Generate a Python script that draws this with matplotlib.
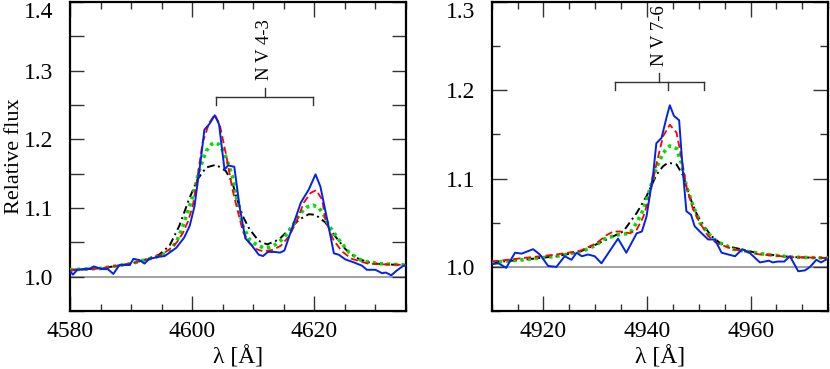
import numpy as np
import matplotlib
matplotlib.use("Agg")
import matplotlib.pyplot as plt
from matplotlib.ticker import MultipleLocator

plt.rcParams['font.family'] = ['Liberation Serif', 'DejaVu Serif']

# ---- N V 4-3 panel -------------------------------------------------------
obs1_wl = [4580.0, 4580.5, 4581.2, 4583.3, 4583.9, 4585.2, 4586.2, 4587.1, 4588.1, 4589.8,
           4590.4, 4591.4, 4592.2, 4593.0, 4594.6, 4595.5, 4596.3, 4597.4, 4598.7, 4599.6,
           4600.4, 4600.9, 4601.5, 4602.0, 4602.8, 4603.7, 4604.4, 4605.3, 4605.9, 4606.9,
           4607.8, 4608.7, 4609.8, 4610.9, 4611.6, 4612.4, 4613.5, 4614.4, 4615.1, 4615.9,
           4617.8, 4619.1, 4620.2, 4621.0, 4622.2, 4623.2, 4624.0, 4625.1, 4626.4, 4627.8,
           4628.6, 4630.0, 4631.1, 4631.7, 4632.6, 4633.5, 4634.6, 4635.0]
obs1_fl = [1.008, 1.003, 1.010, 1.012, 1.015, 1.011, 1.011, 1.004, 1.017, 1.017,
           1.026, 1.024, 1.019, 1.026, 1.029, 1.030, 1.035, 1.042, 1.057, 1.074,
           1.103, 1.137, 1.176, 1.214, 1.222, 1.235, 1.222, 1.156, 1.162, 1.160,
           1.100, 1.056, 1.045, 1.032, 1.030, 1.036, 1.036, 1.035, 1.038, 1.059,
           1.108, 1.127, 1.149, 1.131, 1.079, 1.034, 1.032, 1.025, 1.021, 1.016,
           1.010, 1.010, 1.005, 1.006, 1.002, 1.009, 1.016, 1.016]

red1_wl = [4580, 4585, 4590, 4593, 4595, 4596.3, 4597.5, 4598.5, 4599.3, 4600.1,
           4600.9, 4601.7, 4602.8, 4603.7, 4604.5, 4605.5, 4606.6, 4607.4, 4608.3, 4609.4,
           4610.5, 4611.6, 4613.2, 4614.5, 4615.9, 4617.0, 4618.3, 4619.4, 4620.3, 4621.3,
           4621.8, 4623.1, 4624.5, 4626.1, 4628.8, 4631, 4635]
red1_fl = [1.009, 1.012, 1.019, 1.026, 1.032, 1.040, 1.050, 1.064, 1.080, 1.103,
           1.146, 1.195, 1.224, 1.236, 1.222, 1.180, 1.127, 1.098, 1.066, 1.049,
           1.040, 1.037, 1.039, 1.045, 1.059, 1.079, 1.108, 1.122, 1.126, 1.112,
           1.083, 1.054, 1.037, 1.026, 1.019, 1.018, 1.017]

grn1_wl = [4580, 4585, 4590, 4593, 4595, 4596.3, 4597.5, 4598.5, 4599.3, 4600.1,
           4601.2, 4602.3, 4603.2, 4603.8, 4604.5, 4605.3, 4606.6, 4607.2, 4608.3, 4609.4,
           4610.6, 4611.7, 4612.7, 4613.7, 4614.7, 4615.7, 4616.7, 4617.7, 4618.7, 4619.8,
           4620.8, 4621.6, 4622.4, 4624.0, 4625.7, 4627.8, 4630.6, 4635]
grn1_fl = [1.010, 1.012, 1.019, 1.026, 1.031, 1.037, 1.052, 1.074, 1.095, 1.117,
           1.156, 1.183, 1.193, 1.195, 1.192, 1.180, 1.146, 1.118, 1.074, 1.054,
           1.046, 1.042, 1.043, 1.047, 1.054, 1.064, 1.078, 1.092, 1.101, 1.104,
           1.100, 1.089, 1.074, 1.054, 1.035, 1.023, 1.019, 1.017]

blk1_wl = [4580, 4585, 4590, 4592.4, 4594.6, 4596.3, 4597.9, 4599.5, 4600.9, 4602.3,
           4603.9, 4605.5, 4606.6, 4607.2, 4608.3, 4609.4, 4610.9, 4612.3, 4614.2, 4615.9,
           4617.5, 4619.1, 4620.2, 4621.8, 4623.4, 4625.1, 4626.7, 4628.8, 4631, 4635]
blk1_fl = [1.010, 1.012, 1.019, 1.025, 1.032, 1.045, 1.074, 1.113, 1.142, 1.159,
           1.163, 1.154, 1.137, 1.117, 1.088, 1.069, 1.052, 1.047, 1.054, 1.069,
           1.083, 1.091, 1.090, 1.079, 1.059, 1.040, 1.028, 1.021, 1.018, 1.017]

# ---- N V 7-6 panel -------------------------------------------------------
obs2_wl = [4910.0, 4911.3, 4912.8, 4914.5, 4915.8, 4918.0, 4919.3, 4920.9, 4922.5, 4924.1,
           4925.4, 4926.4, 4927.4, 4928.6, 4929.9, 4931.2, 4932.8, 4934.4, 4936.0, 4938.0,
           4939.0, 4939.9, 4941.2, 4941.8, 4942.8, 4943.8, 4944.4, 4945.2, 4946.2, 4946.9,
           4947.6, 4948.5, 4949.2, 4950.2, 4951.8, 4953.1, 4954.4, 4955.7, 4957.0, 4958.4,
           4959.8, 4961.8, 4962.7, 4963.5, 4964.3, 4965.2, 4966.5, 4967.6, 4969.2, 4970.5,
           4971.5, 4972.7, 4973.6, 4974.5, 4975.0]
obs2_fl = [1.003, 1.004, 0.999, 1.016, 1.015, 1.020, 1.014, 1.001, 1.000, 1.012,
           1.008, 1.016, 1.012, 1.014, 1.012, 1.004, 1.018, 1.032, 1.016, 1.038,
           1.040, 1.057, 1.106, 1.140, 1.146, 1.170, 1.183, 1.171, 1.166, 1.110,
           1.063, 1.059, 1.046, 1.040, 1.031, 1.031, 1.016, 1.014, 1.012, 1.020,
           1.016, 1.005, 1.006, 1.007, 1.005, 1.006, 1.006, 1.012, 0.995, 0.996,
           1.000, 1.008, 1.005, 1.008, 1.009]

red2_wl = [4910, 4916.1, 4922.5, 4927.0, 4930.3, 4932.2, 4933.5, 4935.0, 4936.7, 4938.0,
           4939.3, 4940.5, 4941.8, 4943.1, 4944.4, 4945.7, 4946.6, 4947.6, 4948.9, 4950.2,
           4951.8, 4953.4, 4956.6, 4961.8, 4968, 4975]
red2_fl = [1.006, 1.010, 1.014, 1.018, 1.027, 1.036, 1.040, 1.040, 1.038, 1.042,
           1.057, 1.080, 1.116, 1.148, 1.161, 1.152, 1.125, 1.091, 1.065, 1.050,
           1.035, 1.027, 1.020, 1.014, 1.011, 1.010]

grn2_wl = [4910, 4916, 4922.5, 4927.7, 4930.3, 4931.5, 4934.0, 4936.7, 4938.0, 4939.3,
           4940.5, 4941.8, 4943.1, 4944.4, 4945.7, 4946.6, 4947.6, 4948.9, 4950.2, 4951.8,
           4953.4, 4956.6, 4961.8, 4968, 4975]
grn2_fl = [1.005, 1.008, 1.012, 1.018, 1.025, 1.031, 1.036, 1.038, 1.050, 1.065,
           1.087, 1.112, 1.129, 1.137, 1.134, 1.118, 1.091, 1.069, 1.050, 1.038,
           1.029, 1.020, 1.015, 1.011, 1.010]

blk2_wl = [4910, 4916, 4922.5, 4927.0, 4931.5, 4935.4, 4938.0, 4939.9, 4941.8, 4943.1,
           4944.1, 4945.7, 4947.0, 4948.2, 4949.5, 4950.8, 4952.4, 4954.1, 4956.6, 4961.8,
           4968, 4975]
blk2_fl = [1.005, 1.008, 1.012, 1.017, 1.029, 1.040, 1.061, 1.080, 1.104, 1.114,
           1.118, 1.116, 1.103, 1.080, 1.061, 1.048, 1.035, 1.027, 1.022, 1.015,
           1.011, 1.010]

# line identifications: component wavelengths and stem wavelength
id1_comp = [4603.9, 4619.8]
id1_stem = 4611.9
id2_comp = [4933.9, 4944.1, 4950.96]
id2_stem = 4942.4

fig = plt.figure(figsize=(8.3, 3.69), dpi=100)
ax1 = fig.add_axes([0.0843, 0.1572, 0.4048, 0.8374])
ax2 = fig.add_axes([0.5924, 0.1572, 0.4055, 0.8374])


def draw(ax, obs, red, grn, blk):
    ax.axhline(1.0, color='#888888', lw=1.1, zorder=1)
    ax.plot(*blk, color='black', lw=1.4, ls=(0, (4, 2, 1, 2)), zorder=2)
    ax.plot(*grn, color='#00e000', lw=2.6, ls=(0, (0.9, 1.1)), zorder=3)
    ax.plot(*red, color='red', lw=1.3, ls=(0, (4, 2)), zorder=4)
    ax.plot(*obs, color='#0022ee', lw=1.4, zorder=5)
    for s in ax.spines.values():
        s.set_linewidth(1.6)
    ax.xaxis.set_major_locator(MultipleLocator(20))
    ax.xaxis.set_minor_locator(MultipleLocator(5))
    ax.yaxis.set_major_locator(MultipleLocator(0.1))
    ax.yaxis.set_minor_locator(MultipleLocator(0.05))
    ax.tick_params(which='both', direction='in', top=True, right=True,
                   labelsize=17, width=1.0, color='#333333')
    ax.tick_params(axis='x', which='major', length=11, pad=7)
    ax.tick_params(axis='x', which='minor', length=5)
    ax.tick_params(axis='y', which='both', pad=12)
    ax.set_xlabel('λ [Å]', fontsize=17, labelpad=3)


def bracket(ax, comps, stem, y, leg, top, label, ytext):
    ax.plot([comps[0], comps[-1]], [y, y], color='#333333', lw=1.0)
    for c in comps:
        ax.plot([c, c], [y, y - leg], color='#333333', lw=1.0)
    ax.plot([stem, stem], [y, top], color='#333333', lw=1.0)
    ax.text(stem, ytext, label, rotation=90, ha='center', va='bottom',
            fontsize=13.5)


draw(ax1, (obs1_wl, obs1_fl), (red1_wl, red1_fl), (grn1_wl, grn1_fl), (blk1_wl, blk1_fl))
ax1.set_xlim(4580, 4635)
ax1.set_ylim(0.95, 1.40)
ax1.set_xticks([4580, 4600, 4620])
ax1.tick_params(axis='y', which='both', length=10)
ax1.set_ylabel('Relative flux', fontsize=16)
ax1.yaxis.set_label_coords(-0.136, 0.5)
bracket(ax1, id1_comp, id1_stem, 1.262, 0.0115, 1.275, 'N V 4-3', 1.287)

draw(ax2, (obs2_wl, obs2_fl), (red2_wl, red2_fl), (grn2_wl, grn2_fl), (blk2_wl, blk2_fl))
ax2.set_xlim(4910, 4975)
ax2.set_ylim(0.95, 1.30)
ax2.set_xticks([4920, 4940, 4960])
ax2.tick_params(axis='y', which='major', length=10.5)
ax2.tick_params(axis='y', which='minor', length=6)
bracket(ax2, id2_comp, id2_stem, 1.209, 0.0085, 1.2195, 'N V 7-6', 1.228)

# top tick labels sit below the frame edge as in the original
for ax in (ax1, ax2):
    t = ax.get_yticks()
    ax.set_yticks(t[(t > 0.95) & (t < ax.get_ylim()[1] + 1e-6)])
    ax.get_yticklabels()[-1].set_va('top')

plt.savefig('out.png', dpi=100)
